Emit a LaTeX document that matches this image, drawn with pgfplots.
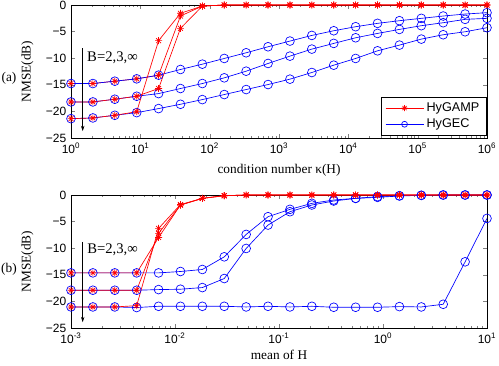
\documentclass[border=0pt]{standalone}
\usepackage{pgfplots}
\usepackage{pgfplotstable}
\pgfplotsset{compat=1.18}
\usetikzlibrary{arrows.meta}
\usepackage{fontspec}
\setmainfont{Liberation Serif}
\newfontfamily\sansf{Liberation Sans}

% matlab-like asterisk: + and x together
\pgfdeclareplotmark{mstar}{%
  \pgfpathmoveto{\pgfqpoint{-\pgfplotmarksize}{0pt}}\pgfpathlineto{\pgfqpoint{\pgfplotmarksize}{0pt}}%
  \pgfpathmoveto{\pgfqpoint{0pt}{-\pgfplotmarksize}}\pgfpathlineto{\pgfqpoint{0pt}{\pgfplotmarksize}}%
  \pgfpathmoveto{\pgfqpoint{-.707\pgfplotmarksize}{-.707\pgfplotmarksize}}\pgfpathlineto{\pgfqpoint{.707\pgfplotmarksize}{.707\pgfplotmarksize}}%
  \pgfpathmoveto{\pgfqpoint{-.707\pgfplotmarksize}{.707\pgfplotmarksize}}\pgfpathlineto{\pgfqpoint{.707\pgfplotmarksize}{-.707\pgfplotmarksize}}%
  \pgfusepathqstroke}

% longer legend sample with a smaller mark, as in matlab
\pgfplotsset{legend image code/.code={%
  \draw[mark repeat=2,mark phase=2,#1,mark size=2.2pt] plot coordinates {(0pt,0pt) (14.25pt,0pt) (28.5pt,0pt)};}}

% top: condition number sweep
\pgfplotstableread{
x g1 g2 g3 a1 a2 a3
1 -14.76 -18.22 -21.36 -14.76 -18.22 -21.36
2.0691 -14.76 -18.22 -21.23 -14.76 -18.22 -21.23
4.2813 -14.32 -17.71 -20.73 -14.32 -17.71 -20.73
8.8587 -13.88 -17.15 -20.23 -13.88 -17.15 -20.06
18.330 -13.19 -16.65 -19.47 -13.20 -15.70 -6.70
37.927 -12.12 -15.70 -18.66 -2.07 -4.39 -1.56
78.476 -11.12 -14.76 -17.78 -0.20 -0.20 -0.20
162.38 -10.05 -13.69 -16.83 0 0 0
335.98 -8.98 -12.44 -15.89 0 0 0
695.19 -7.85 -10.99 -14.95 0 0 0
1438.4 -6.78 -9.61 -13.94 0 0 0
2976.4 -5.72 -8.29 -12.69 0 0 0
6158.5 -4.84 -7.22 -11.31 0 0 0
12743 -4.08 -6.16 -10.05 0 0 0
26367 -3.45 -5.34 -8.61 0 0 0
54556 -2.95 -4.59 -7.54 0 0 0
112884 -2.51 -3.89 -6.41 0 0 0
233572 -2.07 -3.33 -5.59 0 0 0
483293 -1.70 -2.70 -5.03 0 0 0
1000000 -1.44 -2.51 -4.27 0 0 0
}\toptab

% bottom: mean of H sweep
\pgfplotstableread{
x g1 g2 g3 a1 a2 a3
0.001 -14.64 -17.90 -21.04 -14.64 -17.90 -21.04
0.0016238 -14.64 -17.90 -21.04 -14.64 -17.90 -21.04
0.0026367 -14.64 -17.90 -21.04 -14.64 -17.90 -21.04
0.0042813 -14.64 -17.90 -21.15 -14.64 -17.90 -20.80
0.0069519 -14.64 -17.78 -20.92 -7.98 -7.22 -6.28
0.011288 -14.38 -17.71 -20.92 -1.88 -1.90 -1.80
0.018330 -14.00 -17.40 -20.92 -0.63 -0.63 -0.63
0.029764 -11.62 -15.70 -20.92 -0.13 -0.13 -0.13
0.048329 -7.41 -10.05 -21.04 0 0 0
0.078476 -4.08 -5.65 -20.92 0 0 0
0.12743 -2.70 -3.14 -21.04 0 0 0
0.20691 -1.57 -1.88 -20.92 0 0 0
0.33598 -0.94 -1.13 -21.10 0 0 0
0.54556 -0.63 -0.63 -21.10 0 0 0
0.88587 -0.31 -0.44 -21.10 0 0 0
1.4384 -0.13 -0.19 -20.98 0 0 0
2.3357 -0.06 -0.06 -21.04 0 0 0
3.7927 0 0 -20.54 0 0 0
6.1585 0 0 -12.56 0 0 0
10 0 0 -4.40 0 0 0
}\bottab

\begin{document}
\begin{tikzpicture}
\path[use as bounding box] (0,0) rectangle (374.25pt,273.75pt);

\begin{axis}[
    scale only axis, width=312pt, height=99.75pt,
    at={(53.25pt,170.25pt)}, anchor=south west,
    xmode=log,
    xmin=1, xmax=1e6,
    ymin=-25, ymax=0,
    ytick={-25,-20,-15,-10,-5,0},
    yticklabels={−25,−20,−15,−10,−5,0},
    xticklabel={10\textsuperscript{\pgfmathparse{int(round(\tick/ln(10)))}\pgfmathresult}},
    tick label style={font=\fontsize{9}{10}\sansf},
    tick align=inside, tick pos=both,
    major tick length=3pt, minor tick length=1.6pt,
    axis line style={line width=0.5pt},
    ylabel={NMSE(dB)},
    ylabel style={font=\fontsize{10}{12}\selectfont, at={(axis description cs:-0.105,0.5)}, anchor=center},
    xlabel={condition number κ(H)},
    xlabel style={font=\fontsize{10}{12}\selectfont, at={(axis description cs:0.5,-0.24)}, anchor=center},
    clip=false,
    legend style={at={(axis description cs:1,0)}, anchor=south east,
      xshift=-0.5pt, yshift=2pt, font=\fontsize{9.5}{11}\sansf, draw=black, line width=0.5pt,
      inner xsep=3pt, inner ysep=2pt, row sep=0pt},
    legend cell align=left,
  ]
  \addplot[red, line width=0.5pt, mark=mstar, mark size=2.6pt] table[x=x, y=a1] {\toptab};
  \addlegendentry{HyGAMP}
  \addplot[blue, line width=0.5pt, mark=o, mark size=3.3pt] table[x=x, y=g1] {\toptab};
  \addlegendentry{HyGEC}
  \addplot[blue, line width=0.5pt, mark=o, mark size=3.3pt, forget plot] table[x=x, y=g2] {\toptab};
  \addplot[blue, line width=0.5pt, mark=o, mark size=3.3pt, forget plot] table[x=x, y=g3] {\toptab};
  \addplot[red, line width=0.5pt, mark=mstar, mark size=2.6pt, forget plot] table[x=x, y=a2] {\toptab};
  \addplot[red, line width=0.5pt, mark=mstar, mark size=2.6pt, forget plot] table[x=x, y=a3] {\toptab};
  \draw[-{Stealth[length=4pt,width=2.6pt]}, line width=0.4pt] (axis cs:1.475,-8.1) -- (axis cs:1.475,-23.7);
  \node[anchor=west, font=\fontsize{11}{13}\selectfont, inner sep=0pt] at (axis cs:1.70,-10.0) {B=2,3,∞};
\end{axis}

\begin{axis}[
    scale only axis, width=312pt, height=99.75pt,
    at={(53.25pt,27.75pt)}, anchor=south west,
    xmode=log,
    xmin=1e-3, xmax=10,
    ymin=-25, ymax=0,
    ytick={-25,-20,-15,-10,-5,0},
    yticklabels={−25,−20,−15,−10,−5,0},
    xticklabel={10\textsuperscript{\pgfmathparse{int(round(\tick/ln(10)))}\pgfmathresult}},
    tick label style={font=\fontsize{9}{10}\sansf},
    tick align=inside, tick pos=both,
    major tick length=3pt, minor tick length=1.6pt,
    axis line style={line width=0.5pt},
    ylabel={NMSE(dB)},
    ylabel style={font=\fontsize{10}{12}\selectfont, at={(axis description cs:-0.105,0.5)}, anchor=center},
    xlabel={mean of H},
    xlabel style={font=\fontsize{10}{12}\selectfont, at={(axis description cs:0.5,-0.2)}, anchor=center},
    clip=false,
  ]
  \addplot[blue, line width=0.5pt, mark=o, mark size=3.3pt] table[x=x, y=g1] {\bottab};
  \addplot[blue, line width=0.5pt, mark=o, mark size=3.3pt] table[x=x, y=g2] {\bottab};
  \addplot[blue, line width=0.5pt, mark=o, mark size=3.3pt] table[x=x, y=g3] {\bottab};
  \addplot[red, line width=0.5pt, mark=mstar, mark size=2.6pt] table[x=x, y=a1] {\bottab};
  \addplot[red, line width=0.5pt, mark=mstar, mark size=2.6pt] table[x=x, y=a2] {\bottab};
  \addplot[red, line width=0.5pt, mark=mstar, mark size=2.6pt] table[x=x, y=a3] {\bottab};
  \draw[-{Stealth[length=4pt,width=2.6pt]}, line width=0.4pt] (axis cs:0.001296,-8.8) -- (axis cs:0.001296,-23.9);
  \node[anchor=west, font=\fontsize{11}{13}\selectfont, inner sep=0pt] at (axis cs:0.001425,-10.36) {B=2,3,∞};
\end{axis}

\node[font=\fontsize{10}{12}\selectfont] at (6.75pt,215.25pt) {(a)};
\node[font=\fontsize{10}{12}\selectfont] at (6.75pt,72pt) {(b)};
\end{tikzpicture}
\end{document}
